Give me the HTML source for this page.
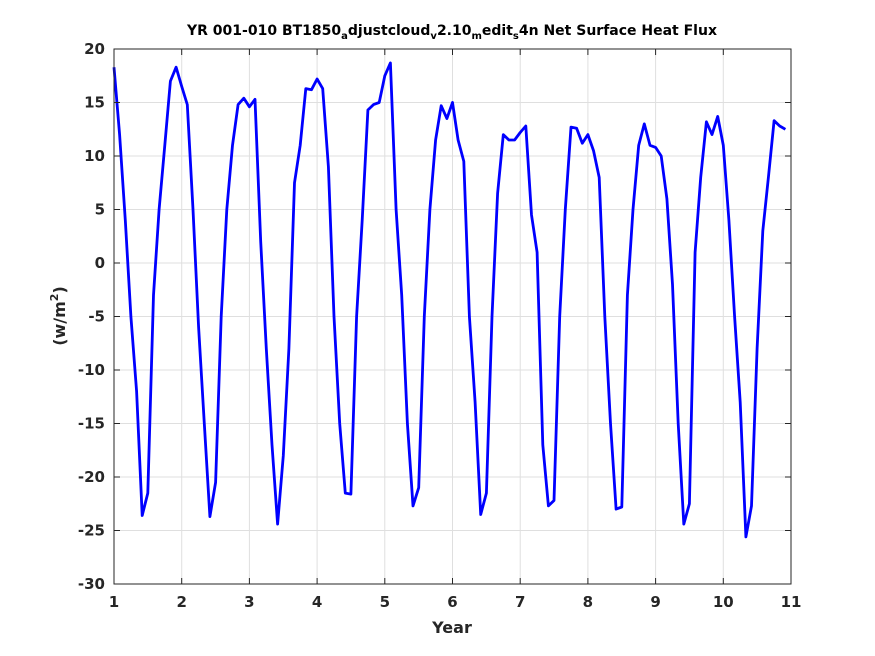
<!DOCTYPE html>
<html><head><meta charset="utf-8"><style>
body{margin:0;background:#fff}
svg{display:block;font-family:"DejaVu Sans","Liberation Sans",sans-serif}
</style></head><body>
<svg id="chart" width="875" height="656">
<rect x="0" y="0" width="875" height="656" fill="#ffffff"/>
<rect x="114" y="49" width="677" height="535" fill="#fff"/>
<g id="grid"></g>
<g id="series"></g>
<rect x="114" y="49" width="677" height="535" fill="none" stroke="#262626" stroke-width="1"/>
<g id="ticks"></g>
<text x="452" y="35" text-anchor="middle" font-size="14" font-weight="bold" fill="#000">YR 001-010 BT1850<tspan font-size="10" dy="4">a</tspan><tspan dy="-4">djustcloud</tspan><tspan font-size="10" dy="4">v</tspan><tspan dy="-4">2.10</tspan><tspan font-size="10" dy="4">m</tspan><tspan dy="-4">edit</tspan><tspan font-size="10" dy="4">s</tspan><tspan dy="-4">4n Net Surface Heat Flux</tspan></text>
<text x="452" y="633" text-anchor="middle" font-size="16" font-weight="bold" fill="#262626">Year</text>
<text transform="translate(65,316) rotate(-90)" text-anchor="middle" font-size="16" font-weight="bold" fill="#262626">(w/m<tspan font-size="11" dy="-7">2</tspan><tspan dy="7">)</tspan></text>
</svg>
<script>
const xTicks=[1,2,3,4,5,6,7,8,9,10,11];
const yTicks=[20,15,10,5,0,-5,-10,-15,-20,-25,-30];
const startYear=1;
const fluxValues=[
18.3,12,4,-5,-12,-23.6,-21.5,-3,5,11,17,18.3,
16.5,14.8,5,-6,-15,-23.7,-20.5,-5,5,11,14.8,15.4,
14.6,15.3,2,-8,-17,-24.4,-18,-8,7.5,11,16.3,16.2,
17.2,16.3,9,-5,-15,-21.5,-21.6,-5,4,14.3,14.8,15,
17.5,18.7,5,-3,-15,-22.7,-21,-5,5,11.5,14.7,13.5,
15,11.5,9.5,-5,-13,-23.5,-21.5,-5,6.5,12,11.5,11.5,
12.2,12.8,4.5,1,-17,-22.7,-22.2,-5,5,12.7,12.6,11.2,
12,10.5,8,-5,-15,-23,-22.8,-3,5,11,13,11,
10.8,10,6,-2,-15,-24.4,-22.5,1,8,13.2,12,13.7,
11,4,-5,-13,-25.6,-22.7,-8,3,8,13.3,12.8,12.5];
const X0=114,X1=791,Y0=584,Y1=49;
const xs=v=>X0+(v-1)/10*(X1-X0);
const ys=v=>Y0-(v+30)/50*(Y0-Y1);
const NS="http://www.w3.org/2000/svg";
const grid=document.getElementById('grid'),ticks=document.getElementById('ticks'),series=document.getElementById('series');
function mk(tag,attrs,parent){const e=document.createElementNS(NS,tag);for(const k in attrs)e.setAttribute(k,attrs[k]);parent.appendChild(e);return e;}
xTicks.forEach(t=>{const x=xs(t);
 const g=mk('line',{x1:x,x2:x,y1:Y1,y2:Y0,stroke:'#dfdfdf','stroke-width':1},grid);
 
 
 const a=mk('line',{x1:x,x2:x,y1:Y0,y2:Y0-6,stroke:'#262626'},ticks);
 
 
 const b=mk('line',{x1:x,x2:x,y1:Y1,y2:Y1+6,stroke:'#262626'},ticks);
 
 
 const l=mk('text',{x:x,y:607,'text-anchor':'middle','font-size':15,'font-weight':'bold',fill:'#262626'},ticks);
 l.textContent=t;
 
 
});
yTicks.forEach(t=>{const y=ys(t);
 const g=mk('line',{x1:X0,x2:X1,y1:y,y2:y,stroke:'#dfdfdf','stroke-width':1},grid);
 
 
 const a=mk('line',{x1:X0,x2:X0+6,y1:y,y2:y,stroke:'#262626'},ticks);
 
 
 const b=mk('line',{x1:X1,x2:X1-6,y1:y,y2:y,stroke:'#262626'},ticks);
 
 
 const l=mk('text',{x:105,y:y+5,'text-anchor':'end','font-size':15,'font-weight':'bold',fill:'#262626'},ticks);
 l.textContent=t;
 
 
});
const pts=fluxValues.map((v,i)=>xs(startYear+i/12).toFixed(1)+','+ys(v).toFixed(1)).join(' ');
const pl=mk('polyline',{points:pts,fill:'none',stroke:'#0000ff','stroke-width':2.8,'stroke-linejoin':'round'},series);


</script>
</body></html>
